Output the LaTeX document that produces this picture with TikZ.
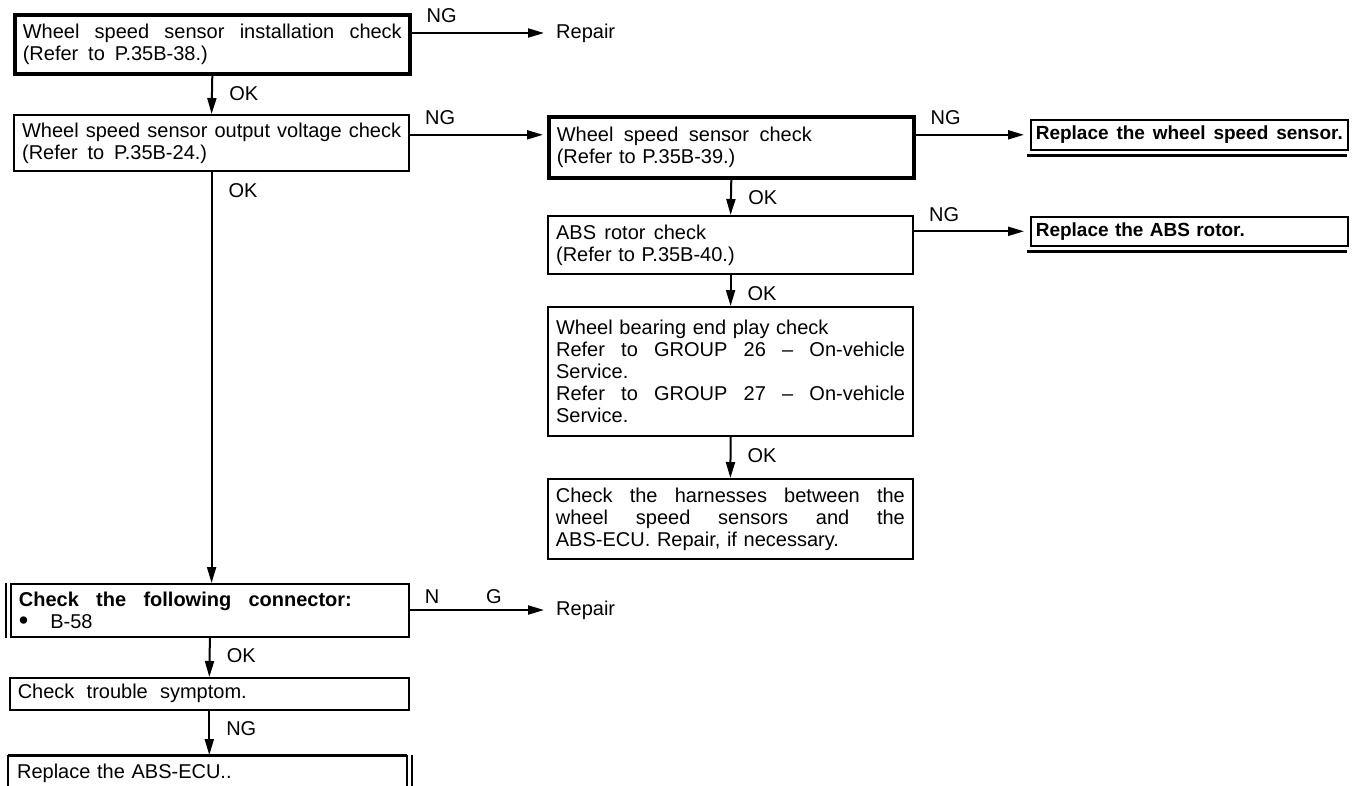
\documentclass[tikz,border=0pt]{standalone}
\usepackage{fontspec}
\setmainfont{Liberation Sans}
\usetikzlibrary{arrows.meta,calc}
\newcommand\spreadline[2][\linewidth]{\makebox[#1][s]{\spaceskip=.2em plus 1fil\relax#2}}

\begin{document}
\begin{tikzpicture}[x=1pt,y=-1pt,
  font=\fontsize{20}{22}\selectfont,
  chk/.style={draw,line width=2.2pt,inner xsep=8pt,inner ysep=2pt,align=left,anchor=north west},
  thick box/.style={line width=3.6pt},
  repl/.style={chk,line width=1.6pt,inner xsep=5pt,text width=307pt,font=\fontsize{19}{22}\selectfont\bfseries},
  lbl/.style={inner sep=0pt},
  ng/.style={lbl,pos=0,anchor=south west,xshift=14pt,yshift=9pt},
  ok/.style={lbl,pos=0,anchor=north west,xshift=16pt,yshift=-10pt},
  flow/.style={line width=2pt,-{Triangle[length=16pt,width=9pt]}}]
\fill[white] (0,0) rectangle (1357,785);
\useasboundingbox (0,0) rectangle (1357,785);

\node[chk,thick box,text width=379pt,minimum height=59pt] (inst) at (13,13)
  {\spreadline{Wheel speed sensor installation check}\\\spreadline[185pt]{(Refer to P.35B-38.)}};
\node[chk,text width=379pt,minimum height=56pt] (outv) at (13,114)
  {\spreadline{Wheel speed sensor output voltage check}\\\spreadline[185pt]{(Refer to P.35B-24.)}};
\node[chk,thick box,text width=349pt,minimum height=61pt] (sens) at (547,115)
  {\spreadline[255pt]{Wheel speed sensor check}\\(Refer to P.35B-39.)};
\node[chk,text width=349pt,minimum height=58pt] (rotor) at (547,215)
  {\spreadline[150pt]{ABS rotor check}\\(Refer to P.35B-40.)};
\node[chk,text width=349pt,minimum height=129pt] (bear) at (547,306)
  {Wheel bearing end play check\\\spreadline{Refer to GROUP 26 -- On-vehicle}\\Service.\\
   \spreadline{Refer to GROUP 27 -- On-vehicle}\\Service.};
\node[chk,line width=1.8pt,text width=349pt,minimum height=80pt] (harn) at (547,478)
  {\spreadline{Check the harnesses between the}\\\spreadline{wheel speed sensors and the}\\
   ABS-ECU. Repair, if necessary.};
\node[repl,minimum height=30pt] (rws) at (1030,119) {\spreadline{Replace the wheel speed sensor.}};
\node[repl,minimum height=29pt] (rabs) at (1030,216) {Replace the ABS rotor.};
\node[chk,line width=1.8pt,text width=382pt,minimum height=53pt] (conn) at (10,583)
  {\spreadline[333pt]{\bfseries Check the following connector:}\\
   \raisebox{-1pt}{\fontsize{27}{22}\selectfont\textbullet}\hspace*{22pt}B-58};
\node[chk,line width=1.6pt,text width=383pt,minimum height=32pt] (symp) at (9,677)
  {\spreadline[229pt]{Check trouble symptom.}};
\node[chk,draw=none,inner ysep=8pt,text width=381pt] (ecu) at (8,755) {Replace the ABS-ECU..};
\node[lbl,anchor=west] (rep1) at (556,33) {Repair};
\node[lbl,anchor=west] (rep2) at (556,610) {Repair};

\draw[line width=3.2pt] ([xshift=-3pt,yshift=-5pt]rws.south west) -- ([xshift=-2pt,yshift=-5pt]rws.south east);
\draw[line width=3.2pt] ([xshift=-3pt,yshift=-5pt]rabs.south west) -- ([xshift=-2pt,yshift=-5pt]rabs.south east);
\draw[line width=1.6pt] ([xshift=-4pt]conn.north west) -- ([xshift=-4pt]conn.south west);
\draw[line width=1.6pt] (ecu.south west) -- (ecu.north west);
\draw[line width=3pt] (ecu.north west) -- (ecu.north east);
\draw[line width=1.6pt] (ecu.north east) -- (ecu.south east);
\draw[line width=1.6pt] ([xshift=5pt]ecu.north east) -- ([xshift=5pt]ecu.south east);

\draw[flow,shorten >=12pt] (inst.east |- rep1.west) -- (rep1.west) node[ng] {NG};
\draw[flow] (inst.south) -- (outv.north) node[ok] {OK};
\draw[flow,shorten >=4pt] (outv.east |- rws.west) -- (sens.west |- rws.west) node[ng] {NG};
\draw[flow,shorten >=6pt] (sens.east |- rws.west) -- (rws.west) node[ng] {NG};
\draw[flow] (sens.south) -- (rotor.north) node[ok] {OK};
\draw[flow,shorten >=6pt] (rotor.east |- rabs.west) -- (rabs.west) node[ng] {NG};
\draw[flow] (rotor.south) -- (bear.north) node[ok] {OK};
\draw[flow] (bear.south) -- (harn.north) node[ok] {OK};
\draw[flow] (outv.south) -- (outv.south |- conn.north) node[ok] {OK};
\draw[flow,shorten >=12pt] (conn.east |- rep2.west) -- (rep2.west) node[ng,yshift=-4pt] {N\hspace*{47pt}G};
\draw[flow] (conn.south) -- (symp.north) node[ok] {OK};
\draw[flow] (symp.south) -- (symp.south |- ecu.north) node[ok] {NG};
\end{tikzpicture}
\end{document}
